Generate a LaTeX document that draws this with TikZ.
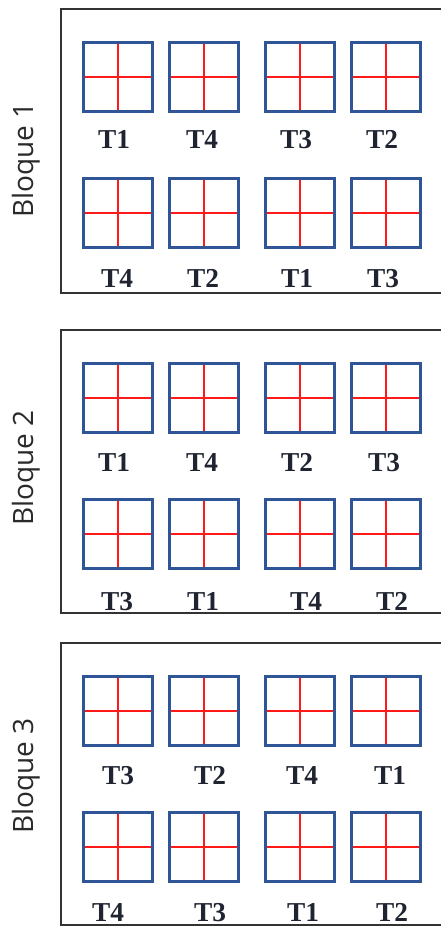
\documentclass[tikz,border=0pt]{standalone}
\usepackage{fontspec}
\setmainfont{Liberation Serif}
\newfontfamily\blqfont{Open Sans}
\definecolor{plotblue}{HTML}{2F5597}
\definecolor{frameg}{HTML}{333333}
\definecolor{blqc}{HTML}{2A2A2A}
\definecolor{labc}{HTML}{1F2430}
\definecolor{crossred}{HTML}{FF1A1A}
\begin{document}
\begin{tikzpicture}[x=0.75pt,y=-0.75pt,
  plotbox/.style={draw=plotblue, line width=2.2pt, minimum size=51.75pt, inner sep=0pt,
    path picture={\draw[crossred,line width=1.1pt]
      (path picture bounding box.north) -- (path picture bounding box.south)
      (path picture bounding box.west) -- (path picture bounding box.east);}},
  lab/.style={font=\bfseries\fontsize{20.5}{21}\selectfont, text=labc, inner sep=0pt, anchor=base},
  blq/.style={font=\blqfont\fontsize{21}{22}\selectfont, rotate=90, anchor=base, text=blqc, inner sep=0pt},
  frame/.style={draw=frameg, line width=1.1pt}]
\useasboundingbox (0,0) rectangle (441,927);
% frames
\foreach \n/\t/\bt in {1/9/293, 2/330/613, 3/643/925}{
  \coordinate (f\n tr) at (446,\t);
  \coordinate (f\n br) at (446,\bt);
  \draw[frame] (f\n tr) -| (61,\bt) -- (f\n br);
}
% plots
\foreach \n/\t in {1/9, 2/330, 3/643}{
  \foreach \c/\x in {1/118, 2/204, 3/300, 4/386}{
    \node[plotbox] (b\n r1c\c) at (\x,\t+68) {};
    \node[plotbox] (b\n r2c\c) at (\x,\t+204) {};
  }
}
% block titles
\node[blq] (bq1) at (33,160) {Bloque 1};
\node[blq] (bq2) at (33,468) {Bloque 2};
\node[blq] (bq3) at (33,776) {Bloque 3};
% labels block 1
\node[lab] (l1a) at (114,149) {T1};
\node[lab] (l1b) at (202,149) {T4};
\node[lab] (l1c) at (296,149) {T3};
\node[lab] (l1d) at (382,149) {T2};
\node[lab] (l1e) at (117,287) {T4};
\node[lab] (l1f) at (203,287) {T2};
\node[lab] (l1g) at (297,287) {T1};
\node[lab] (l1h) at (383,287) {T3};
% labels block 2
\node[lab] (l2a) at (114,471) {T1};
\node[lab] (l2b) at (202,471) {T4};
\node[lab] (l2c) at (297,471) {T2};
\node[lab] (l2d) at (384,471) {T3};
\node[lab] (l2e) at (117,610) {T3};
\node[lab] (l2f) at (203,610) {T1};
\node[lab] (l2g) at (306,610) {T4};
\node[lab] (l2h) at (392,610) {T2};
% labels block 3
\node[lab] (l3a) at (118,784) {T3};
\node[lab] (l3b) at (210,784) {T2};
\node[lab] (l3c) at (302,784) {T4};
\node[lab] (l3d) at (390,784) {T1};
\node[lab] (l3e) at (108,921) {T4};
\node[lab] (l3f) at (210,921) {T3};
\node[lab] (l3g) at (303,921) {T1};
\node[lab] (l3h) at (392,921) {T2};
\end{tikzpicture}
\end{document}
